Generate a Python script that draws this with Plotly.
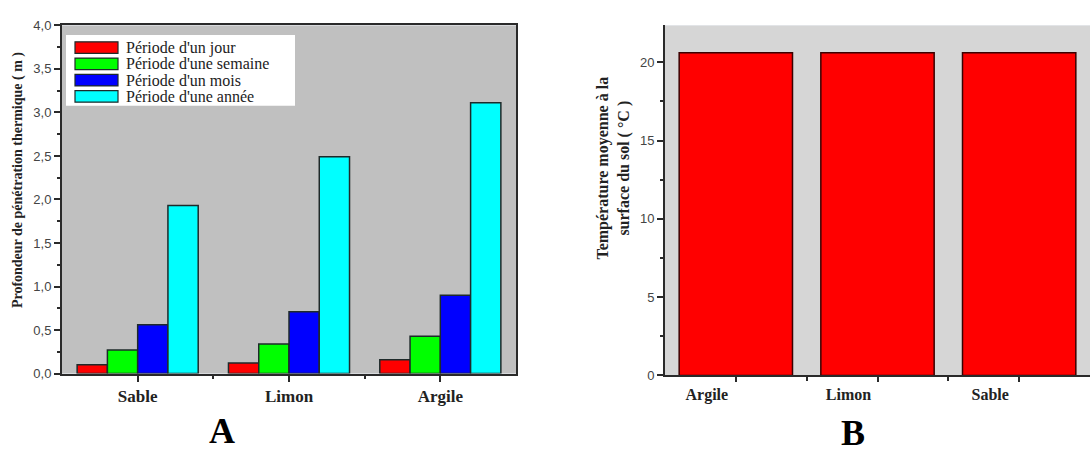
import plotly.graph_objects as go

# Panel A: thermal penetration depth (m) per soil type and period
soils_a = ["Sable", "Limon", "Argile"]
periods = ["Période d'un jour", "Période d'une semaine", "Période d'un mois", "Période d'une année"]
depth_jour = [0.10, 0.12, 0.16]
depth_semaine = [0.27, 0.34, 0.43]
depth_mois = [0.56, 0.71, 0.90]
depth_annee = [1.93, 2.49, 3.11]
period_colors = ["#ff0000", "#00ff00", "#0000ff", "#00ffff"]

# Panel B: mean soil surface temperature (°C)
soils_b = ["Argile", "Limon", "Sable"]
temp_surface = [20.6, 20.6, 20.6]

A_TICKS = [0.0, 0.5, 1.0, 1.5, 2.0, 2.5, 3.0, 3.5, 4.0]
B_TICKS = [0, 5, 10, 15, 20]

SERIF = "Liberation Serif"
SANS = "Liberation Sans"
AXIS_COL = "#2a2a2a"

fig = go.Figure()

series_a = [depth_jour, depth_semaine, depth_mois, depth_annee]
for name, vals, col in zip(periods, series_a, period_colors):
    fig.add_trace(go.Bar(
        x=list(range(len(soils_a))), y=vals, name=name,
        marker=dict(color=col, line=dict(color="#1e2a2a", width=1.5)),
        xaxis="x", yaxis="y", showlegend=False,
    ))

fig.add_trace(go.Bar(
    x=list(range(len(soils_b))), y=temp_surface, name="Température",
    marker=dict(color="#ff0000", line=dict(color="#3a0000", width=1.5)),
    xaxis="x2", yaxis="y2", showlegend=False, width=0.8,
))

W, H = 1090, 457
def px_x(v):
    return v / W
def px_y(v):
    return 1 - v / H

fig.update_layout(
    width=W, height=H, autosize=False,
    margin=dict(l=0, r=0, t=0, b=0),
    paper_bgcolor="white",
    separators=", ",
    barmode="group", bargap=0.2, bargroupgap=0,
    xaxis=dict(
        domain=[px_x(62), px_x(516)], anchor="y",
        range=[-0.5, 2.5], tickvals=[0, 1, 2], ticktext=soils_a,
        ticks="outside", ticklen=6, tickwidth=1.5, tickcolor=AXIS_COL,
        minor=dict(tickvals=[0.5, 1.5], ticks="outside", ticklen=3, tickcolor=AXIS_COL, tickwidth=1.5),
        showline=True, linecolor=AXIS_COL, linewidth=2, mirror=True,
        showgrid=False, zeroline=False,
        tickfont=dict(family=SERIF, size=17, color="#222", weight="bold"),
    ),
    yaxis=dict(
        domain=[px_y(379), px_y(19)], anchor="x",
        range=[0, 4.0], tickvals=A_TICKS, tickformat=".1f",
        ticks="outside", ticklen=6, tickwidth=1.5, tickcolor=AXIS_COL,
        minor=dict(dtick=0.25, tick0=0, ticks="outside", ticklen=3, tickcolor=AXIS_COL, tickwidth=1.5),
        showline=True, linecolor=AXIS_COL, linewidth=2, mirror=True,
        showgrid=False, zeroline=False,
        tickfont=dict(family=SANS, size=13, color="#444"),
    ),
    xaxis2=dict(
        domain=[px_x(665), 1.0], anchor="y2",
        range=[-0.5, 2.5], tickvals=[0, 1, 2], ticktext=soils_b,
        ticks="outside", ticklen=5, tickwidth=1.5, tickcolor=AXIS_COL,
        ticklabelshift=-29, ticklabelstandoff=-2,
        minor=dict(tickvals=[0.5, 1.5], ticks="outside", ticklen=4, tickcolor=AXIS_COL, tickwidth=1.5),
        showline=True, linecolor=AXIS_COL, linewidth=2,
        showgrid=False, zeroline=False,
        tickfont=dict(family=SERIF, size=16, color="#222", weight="bold"),
    ),
    yaxis2=dict(
        domain=[px_y(381), px_y(19)], anchor="x2",
        range=[0, 22.35], tickvals=B_TICKS,
        ticks="outside", ticklen=6, tickwidth=1.5, tickcolor=AXIS_COL,
        minor=dict(dtick=2.5, tick0=0, ticks="outside", ticklen=3, tickcolor=AXIS_COL, tickwidth=1.5),
        showline=True, linecolor=AXIS_COL, linewidth=2,
        showgrid=False, zeroline=False,
        tickfont=dict(family=SANS, size=13, color="#444"),
    ),
)

shapes = []
annotations = []

# Plot backgrounds (grey areas), placed below the traces
shapes.append(dict(type="rect", xref="x domain", yref="y domain", x0=0, x1=1, y0=0, y1=1,
                   fillcolor="#c0c0c0", line=dict(width=0), layer="below"))
shapes.append(dict(type="rect", xref="x2 domain", yref="y2 domain", x0=0, x1=1, y0=0, y1=1,
                   fillcolor="#d6d6d6", line=dict(width=0), layer="below"))

# Legend box for panel A
shapes.append(dict(type="rect", xref="paper", yref="paper",
                   x0=px_x(66), x1=px_x(295), y0=px_y(102), y1=px_y(29),
                   fillcolor="white", line=dict(width=0)))
for i, (name, col) in enumerate(zip(periods, period_colors)):
    yc = 42 + i * 16.8
    shapes.append(dict(type="rect", xref="paper", yref="paper",
                       x0=px_x(75), x1=px_x(118), y0=px_y(yc + 6), y1=px_y(yc - 6),
                       fillcolor=col, line=dict(color="#1e2a2a", width=1.2)))
    annotations.append(dict(text=name, xref="paper", yref="paper",
                            x=px_x(124), y=px_y(yc), xanchor="left", yanchor="middle",
                            showarrow=False, font=dict(family=SERIF, size=16, color="#222")))

# Axis titles
annotations.append(dict(text="<b>Profondeur de pénétration thermique ( m )</b>",
                        xref="paper", yref="paper", x=px_x(18), y=px_y(179),
                        textangle=-90, showarrow=False, xanchor="center", yanchor="middle",
                        font=dict(family=SERIF, size=14, color="#222")))
annotations.append(dict(text="<b>Température moyenne à la<br>surface du sol ( °C )</b>",
                        xref="paper", yref="paper", x=px_x(614), y=px_y(167),
                        textangle=-90, showarrow=False, xanchor="center", yanchor="middle",
                        font=dict(family=SERIF, size=16, color="#222")))

# Panel letters
annotations.append(dict(text="<b>A</b>", xref="paper", yref="paper", x=px_x(222), y=px_y(438),
                        showarrow=False, xanchor="center", yanchor="middle",
                        font=dict(family=SERIF, size=36, color="black")))
annotations.append(dict(text="<b>B</b>", xref="paper", yref="paper", x=px_x(853), y=px_y(440),
                        showarrow=False, xanchor="center", yanchor="middle",
                        font=dict(family=SERIF, size=36, color="black")))

fig.update_layout(shapes=shapes, annotations=annotations)

fig.write_html("out.html")
